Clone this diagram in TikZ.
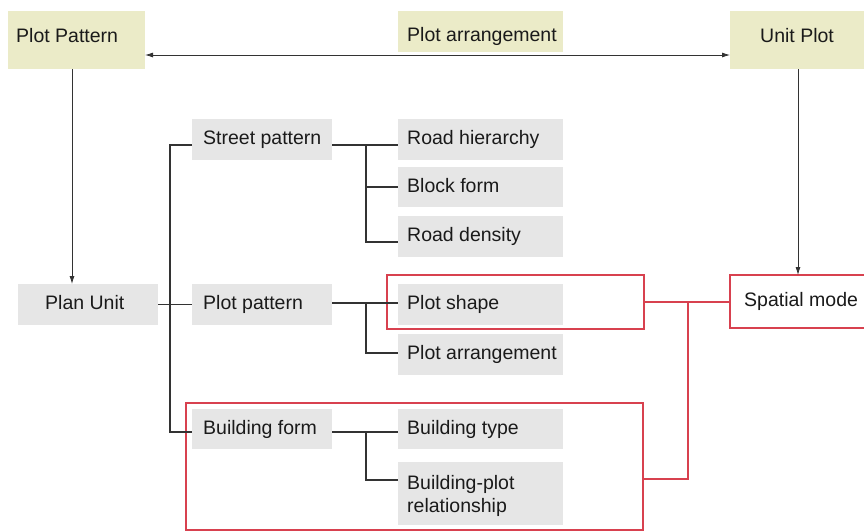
\documentclass[tikz,border=0pt]{standalone}
\usepackage{fontspec}
\setmainfont{Liberation Sans}
\usetikzlibrary{arrows.meta}
\definecolor{ybox}{HTML}{EBEBC8}
\definecolor{gbox}{HTML}{E6E6E6}
\definecolor{rline}{HTML}{D8414F}
\definecolor{tcol}{HTML}{1A1A1A}
\definecolor{kline}{HTML}{333333}
\newcommand{\mkbox}[6]{\node[#6, anchor=north west, inner sep=0pt, outer sep=0pt, minimum width={(#4)-(#2)}, minimum height={(#5)-(#3)}] (#1) at (#2,#3) {};}
\newcommand{\mklbl}[4]{\node[lbl, anchor=base west] (#1) at (#2,#3) {#4};}
\begin{document}
\begin{tikzpicture}[x=1pt,y=-1pt,
  yel/.style={fill=ybox, draw=none},
  gry/.style={fill=gbox, draw=none},
  redbox/.style={draw=rline, line width=1.3pt, fill=none},
  redfill/.style={draw=rline, line width=1.3pt, fill=white},
  lbl/.style={inner sep=0pt, text=tcol, font=\fontsize{19.5}{23}\selectfont, align=left},
  tree/.style={draw=kline, line width=1.2pt},
  redline/.style={draw=rline, line width=1.3pt},
  arr/.style={draw=kline, line width=0.8pt, -{Latex[length=8pt,width=5pt]}},
  darr/.style={draw=kline, line width=0.8pt, {Latex[length=8pt,width=5pt]}-{Latex[length=8pt,width=5pt]}}]
\useasboundingbox (0,0) rectangle (864,531);
% top row
\mkbox{pp}{8}{11}{145}{69}{yel}
\mkbox{pa}{398}{11}{563}{52}{yel}
\mkbox{up}{730}{11}{870}{69}{yel}
\mklbl{ppt}{16}{42}{Plot Pattern}
\mklbl{pat}{407}{41}{Plot arrangement}
\mklbl{upt}{760}{42}{Unit Plot}
% red frames
\mkbox{rb1}{387}{275}{644}{329}{redbox}
\mkbox{rb2}{186}{403}{643}{530}{redbox}
\mkbox{sm}{730}{275}{870}{328}{redfill}
\mklbl{smt}{744}{306}{Spatial mode}
% left column
\mkbox{pu}{18}{284}{158}{325}{gry}
\mklbl{put}{45}{309}{Plan Unit}
% middle column
\mkbox{sp}{192}{119}{332}{160}{gry}
\mkbox{plp}{192}{284}{332}{325}{gry}
\mkbox{bf}{192}{409}{332}{449}{gry}
\mklbl{spt}{203}{144}{Street pattern}
\mklbl{plpt}{203}{309}{Plot pattern}
\mklbl{bft}{203}{434}{Building form}
% right column
\mkbox{rh}{398}{119}{563}{160}{gry}
\mkbox{bk}{398}{167}{563}{207}{gry}
\mkbox{rd}{398}{216}{563}{257}{gry}
\mkbox{ps}{398}{284}{563}{325}{gry}
\mkbox{par}{398}{334}{563}{375}{gry}
\mkbox{bt}{398}{409}{563}{449}{gry}
\mkbox{bpr}{398}{462}{563}{525}{gry}
\mklbl{rht}{407}{144}{Road hierarchy}
\mklbl{bkt}{407}{192}{Block form}
\mklbl{rdt}{407}{241}{Road density}
\mklbl{pst}{407}{309}{Plot shape}
\mklbl{part}{407}{359}{Plot arrangement}
\mklbl{btt}{407}{434}{Building type}
\node[lbl, anchor=base west] (bprt) at (407,512) {Building-plot\\relationship};
% arrows
\coordinate (ay) at (0,55);
\draw[darr] (pp.east |- ay) -- (up.west |- ay);
\coordinate (vx1) at (72,0);
\draw[arr] (vx1 |- pp.south) -- (vx1 |- pu.north);
\coordinate (vx2) at (798,0);
\draw[arr] (vx2 |- up.south) -- (vx2 |- sm.north);
% main tree
\coordinate (tr1) at (170,145);
\coordinate (tr2) at (170,432);
\draw[tree] (pu.east) -- (plp.west);
\draw[tree] (sp.west |- tr1) -- (tr1) -- (tr2) -- (bf.west |- tr2);
% street pattern subtree
\coordinate (j1) at (366,145);
\draw[tree] (sp.east |- j1) -- (rh.west |- j1);
\draw[tree] (j1) |- (bk.west |- 0,187);
\draw[tree] (j1) |- (rd.west |- 0,242);
% plot pattern subtree
\coordinate (j2) at (366,303);
\draw[tree] (plp.east |- j2) -- (ps.west |- j2);
\draw[tree] (j2) |- (par.west |- 0,353);
% building form subtree
\coordinate (j3) at (366,432);
\draw[tree] (bf.east |- j3) -- (bt.west |- j3);
\draw[tree] (j3) |- (bpr.west |- 0,480);
% red connectors
\coordinate (j4) at (688,302);
\draw[redline] (rb1.east |- j4) -- (sm.west |- j4);
\draw[redline] (j4) |- (rb2.east |- 0,479);
\end{tikzpicture}
\end{document}
